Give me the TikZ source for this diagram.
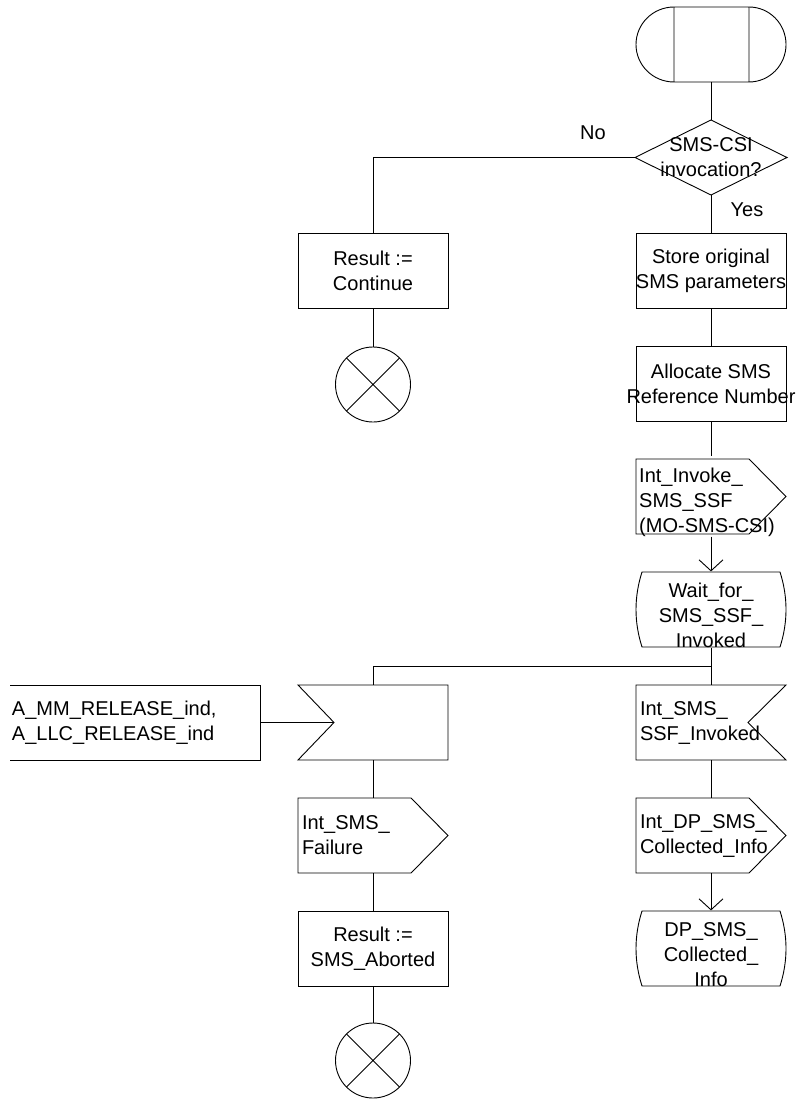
\documentclass[tikz,border=0pt]{standalone}
\usepackage{fontspec}
\setmainfont{Liberation Sans}
\usetikzlibrary{arrows.meta,calc,positioning}
\newcommand{\sdlfont}{\fontsize{20}{25}\selectfont}
\newcommand{\lowstrut}{\rule{0pt}{26pt}}
\tikzset{sdlline/.style={draw=black,line width=.9pt},
  sdlnode/.style={rectangle,minimum width=150pt,minimum height=75pt,inner sep=0pt,outer sep=0pt,font=\sdlfont,align=center},
  lefttext/.style={sdlnode,text width=142pt,align=left},
  stopnode/.style={circle,sdlline,minimum size=75pt,inner sep=0pt,outer sep=0pt,path picture={\draw[sdlline] (path picture bounding box.north west) -- (path picture bounding box.south east) (path picture bounding box.north east) -- (path picture bounding box.south west);}},
  flow/.style={sdlline},
  flowarrow/.style={sdlline,-{Straight Barb[length=11pt,width=24pt]}},
  note/.style={font=\sdlfont,inner sep=0pt}}

\begin{document}
\begin{tikzpicture}[x=1pt,y=1pt]
\useasboundingbox (0,0) rectangle (797,-1099);
% right column
\node[sdlnode] (start) at (711,-44.5) {};
\node[sdlnode] (dec) at (711,-157.5) {SMS-CSI\\invocation?};
\node[sdlnode] (store) at (711,-270.5) {Store original\\SMS parameters};
\node[sdlnode] (alloc) at (711,-383.5) {Allocate SMS\\Reference Number};
\node[sdlnode,align=left] (invoke) at (711,-496.5) {\lowstrut Int\_Invoke\_\\SMS\_SSF\\(MO-SMS-CSI)\rule{8pt}{0pt}};
\node[sdlnode] (wait) at (711,-609.5) {\lowstrut Wait\_for\_\\SMS\_SSF\_\\Invoked};
\node[lefttext] (ssfinv) at (711,-722.5) {Int\_SMS\_\\SSF\_Invoked};
\node[lefttext] (dpinfo) at (711,-835.5) {Int\_DP\_SMS\_\\Collected\_Info};
\node[sdlnode] (dpstate) at (711,-948.5) {\lowstrut DP\_SMS\_\\Collected\_\\Info};
% left column
\node[sdlnode] (cont) at (373,-270.5) {Result :=\\Continue};
\node[stopnode] (stopa) at (373,-384.5) {};
\node[sdlnode] (rel) at (373,-722.5) {};
\node[sdlnode,minimum width=250pt,text width=246pt,align=left] (sig) at (135,-722.5) {A\_MM\_RELEASE\_ind,\\A\_LLC\_RELEASE\_ind};
\node[lefttext] (fail) at (373,-835.5) {Int\_SMS\_\\Failure};
\node[sdlnode] (abort) at (373,-948.5) {Result :=\\SMS\_Aborted};
\node[stopnode] (stopb) at (373,-1060.5) {};
\node[note] (no) at (593,-133) {No};
\node[note] (yes) at (747,-210) {Yes};

% symbol outlines
\draw[sdlline,shift={(start.center)}] (-37,37.5) -- (38,37.5) arc[start angle=90,end angle=-90,x radius=37,y radius=37.5] -- (-37,-37.5) arc[start angle=270,end angle=90,x radius=38,y radius=37.5] -- cycle (-37,37.5) -- (-37,-37.5) (38,37.5) -- (38,-37.5);
\draw[sdlline,shift={(dec.center)}] (0,37.5) -- (76,0) -- (0,-37.5) -- (-76,0) -- cycle;
\foreach \n in {store,alloc,cont,abort}
  \draw[sdlline,shift={(\n.center)}] (-75,37.5) rectangle (75,-37.5);
\foreach \n in {invoke,dpinfo,fail}
  \draw[sdlline,shift={(\n.center)}] (-75,37.5) -- (38,37.5) -- (75,0) -- (38,-37.5) -- (-75,-37.5) -- cycle;
\foreach \n in {wait,dpstate}
  \draw[sdlline,shift={(\n.center)}] (-69,37.5) -- (69,37.5) .. controls (77,12.5) and (77,-12.5) .. (69,-37.5) -- (-69,-37.5) .. controls (-77,-12.5) and (-77,12.5) .. (-69,37.5) -- cycle;
\draw[sdlline,shift={(ssfinv.center)}] (-75,37.5) -- (75,37.5) -- (37,0) -- (75,-37.5) -- (-75,-37.5) -- cycle;
\draw[sdlline,shift={(rel.center)}] (-75,37.5) -- (75,37.5) -- (75,-37.5) -- (-75,-37.5) -- (-39,0) -- cycle;
\draw[sdlline,shift={(sig.center)}] (-125,37.5) -- (125,37.5) -- (125,-37.5) -- (-125,-37.5);

% connectors
\draw[flow] (start.south) -- (dec.north);
\draw[flow] (dec.west) -| (cont.north);
\draw[flow] (dec.south) -- (store.north);
\draw[flow] (store.south) -- (alloc.north);
\draw[flow] (alloc.south) -- (invoke.north);
\draw[flowarrow] (invoke.south) -- (wait.north);
\draw[flow] (wait.south) -- (ssfinv.north);
\coordinate (fork) at (711,-666);
\draw[flow] (fork) -| (rel.north);
\draw[flow] (ssfinv.south) -- (dpinfo.north);
\draw[flowarrow] (dpinfo.south) -- (dpstate.north);
\draw[flow] (cont.south) -- (stopa.north);
\draw[flow] (sig.east) -- ([xshift=36pt]rel.west);
\draw[flow] (rel.south) -- (fail.north);
\draw[flow] (fail.south) -- (abort.north);
\draw[flow] (abort.south) -- (stopb.north);
\end{tikzpicture}
\end{document}
